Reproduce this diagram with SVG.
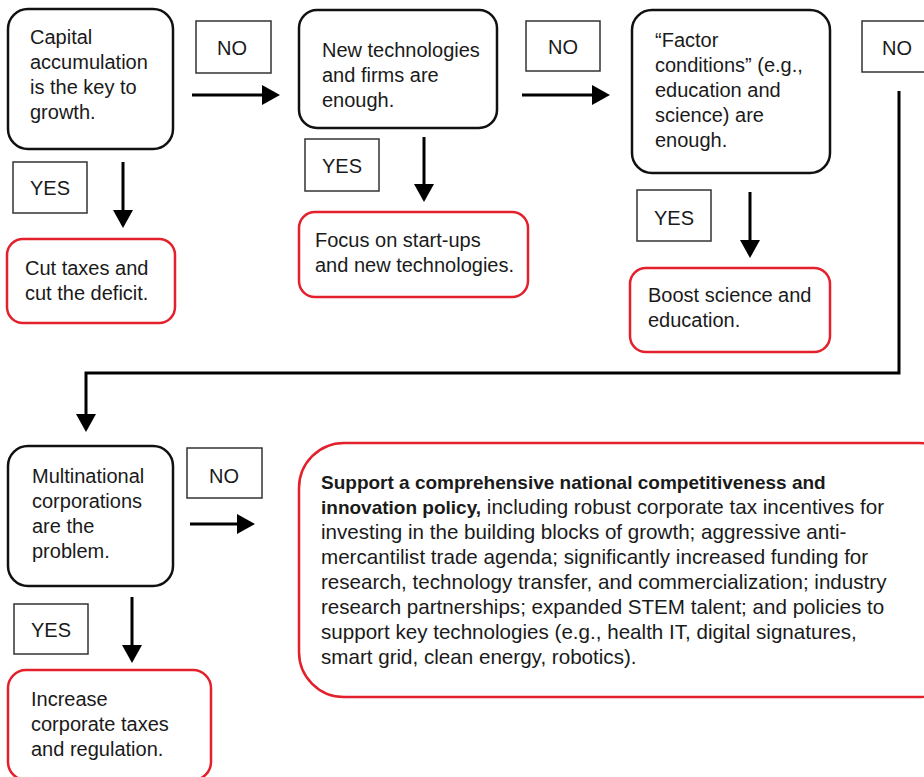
<svg xmlns="http://www.w3.org/2000/svg" width="924" height="777" viewBox="0 0 924 777">
<style>
  text { font-family: "Liberation Sans", Arial, sans-serif; font-size: 20px; fill: #1a1a1a; }
  .q { fill: #fff; stroke: #111; stroke-width: 2.5; }
  .a { fill: #fff; stroke: #e3202b; stroke-width: 2.5; }
  .lbl { fill: #fff; stroke: #333; stroke-width: 1.5; }
  .lt { text-anchor: middle; }
  .big { font-size: 20.6px; }
  .b { font-weight: bold; font-size: 19px; }
  .conn { fill: none; stroke: #000; stroke-width: 3; }
</style>
<defs>
  <marker id="ah" viewBox="0 0 18 20" refX="8" refY="10" markerWidth="18" markerHeight="20" markerUnits="userSpaceOnUse" orient="auto">
    <path d="M0,0 L18,10 L0,20 Z" fill="#000"/>
  </marker>
</defs>
<rect width="924" height="777" fill="#fff"/>

<g id="connectors">
  <line class="conn" x1="192" y1="95" x2="270" y2="95" marker-end="url(#ah)"/>
  <line class="conn" x1="522" y1="95" x2="600" y2="95" marker-end="url(#ah)"/>
  <line class="conn" x1="123" y1="162" x2="123" y2="218" marker-end="url(#ah)"/>
  <line class="conn" x1="424" y1="137" x2="424" y2="192" marker-end="url(#ah)"/>
  <line class="conn" x1="750" y1="192" x2="750" y2="248" marker-end="url(#ah)"/>
  <polyline class="conn" points="899,91 899,373 86,373 86,422" marker-end="url(#ah)"/>
  <line class="conn" x1="190" y1="524" x2="245" y2="524" marker-end="url(#ah)"/>
  <line class="conn" x1="132" y1="597" x2="132" y2="653" marker-end="url(#ah)"/>
</g>

<g id="q1">
  <rect class="q" x="8" y="9" width="165" height="140" rx="20"/>
  <text x="30" y="44">Capital</text>
  <text x="30" y="69">accumulation</text>
  <text x="30" y="94">is the key to</text>
  <text x="30" y="119">growth.</text>
</g>
<g id="no1">
  <rect class="lbl" x="196" y="21" width="75" height="52"/>
  <text class="lt" x="232" y="55">NO</text>
</g>
<g id="yes1">
  <rect class="lbl" x="13" y="162" width="74" height="51"/>
  <text class="lt" x="50" y="195">YES</text>
</g>
<g id="a1">
  <rect class="a" x="7" y="239" width="168" height="84" rx="16"/>
  <text x="25" y="275">Cut taxes and</text>
  <text x="25" y="300">cut the deficit.</text>
</g>

<g id="q2">
  <rect class="q" x="299" y="10" width="198" height="118" rx="18"/>
  <text x="322" y="57">New technologies</text>
  <text x="322" y="82">and firms are</text>
  <text x="322" y="107">enough.</text>
</g>
<g id="no2">
  <rect class="lbl" x="526" y="21" width="74" height="50"/>
  <text class="lt" x="563" y="54">NO</text>
</g>
<g id="yes2">
  <rect class="lbl" x="305" y="139" width="74" height="52"/>
  <text class="lt" x="342" y="173">YES</text>
</g>
<g id="a2">
  <rect class="a" x="299" y="212" width="229" height="85" rx="16"/>
  <text x="315" y="247">Focus on start-ups</text>
  <text x="315" y="272">and new technologies.</text>
</g>

<g id="q3">
  <rect class="q" x="632" y="10" width="198" height="163" rx="20"/>
  <text x="655" y="47">“Factor</text>
  <text x="655" y="72">conditions” (e.g.,</text>
  <text x="655" y="97">education and</text>
  <text x="655" y="122">science) are</text>
  <text x="655" y="147">enough.</text>
</g>
<g id="no3">
  <rect class="lbl" x="862" y="21" width="80" height="51"/>
  <text class="lt" x="897" y="55">NO</text>
</g>
<g id="yes3">
  <rect class="lbl" x="637" y="190" width="74" height="51"/>
  <text class="lt" x="674" y="225">YES</text>
</g>
<g id="a3">
  <rect class="a" x="630" y="268" width="200" height="84" rx="16"/>
  <text x="648" y="302">Boost science and</text>
  <text x="648" y="327">education.</text>
</g>

<g id="q4">
  <rect class="q" x="8" y="446" width="165" height="140" rx="20"/>
  <text x="32" y="483">Multinational</text>
  <text x="32" y="508">corporations</text>
  <text x="32" y="533">are the</text>
  <text x="32" y="558">problem.</text>
</g>
<g id="no4">
  <rect class="lbl" x="187" y="448" width="75" height="50"/>
  <text class="lt" x="224" y="483">NO</text>
</g>
<g id="yes4">
  <rect class="lbl" x="14" y="604" width="74" height="50"/>
  <text class="lt" x="51" y="637">YES</text>
</g>
<g id="a4">
  <rect class="a" x="8" y="670" width="203" height="110" rx="18"/>
  <text x="31" y="706">Increase</text>
  <text x="31" y="731">corporate taxes</text>
  <text x="31" y="756">and regulation.</text>
</g>

<g id="a5">
  <rect class="a" x="299" y="443" width="665" height="254" rx="45"/>
  <text class="b" x="321" y="489">Support a comprehensive national competitiveness and</text>
  <text class="big" x="321" y="514"><tspan class="b">innovation policy,</tspan> including robust corporate tax incentives for</text>
  <text class="big" x="321" y="539">investing in the building blocks of growth; aggressive anti-</text>
  <text class="big" x="321" y="564">mercantilist trade agenda; significantly increased funding for</text>
  <text class="big" x="321" y="589">research, technology transfer, and commercialization; industry</text>
  <text class="big" x="321" y="614">research partnerships; expanded STEM talent; and policies to</text>
  <text class="big" x="321" y="639">support key technologies (e.g., health IT, digital signatures,</text>
  <text class="big" x="321" y="664">smart grid, clean energy, robotics).</text>
</g>
</svg>
